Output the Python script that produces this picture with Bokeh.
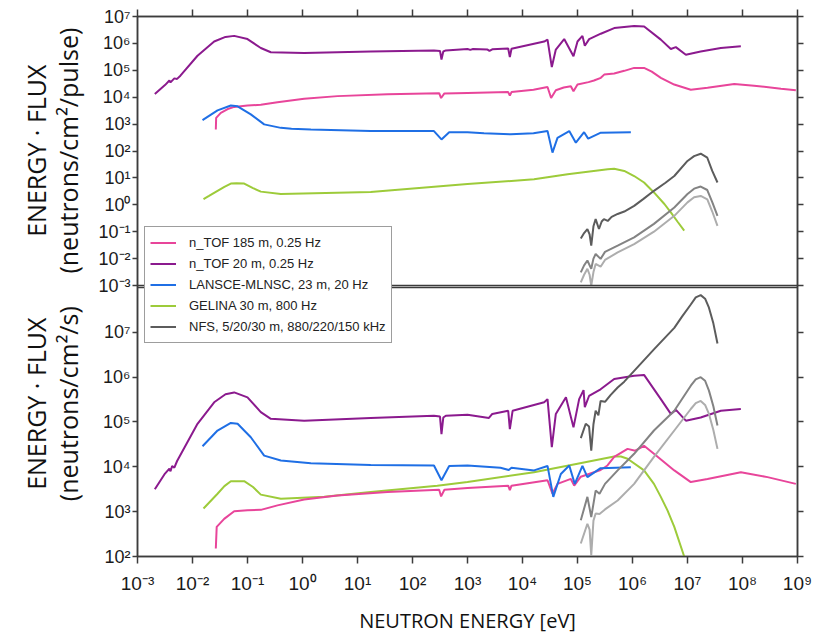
import numpy as np
from bokeh.plotting import figure
from bokeh.layouts import row
from bokeh.core.properties import value
from bokeh.models import (Range1d, LogScale, LogAxis, FixedTicker, Span, Legend, LegendItem)
from bokeh.embed import file_html
from bokeh.resources import INLINE

# ---------------- data: (log10 E [eV], log10 ENERGY·FLUX) ----------------
# upper panel: neutrons/cm2/pulse
ntof185_top = [(-1.576, 2.80), (-1.57, 3.23), (-1.485, 3.42), (-1.36, 3.56), (-1.242, 3.64), (-1.0, 3.69),
               (-0.758, 3.72), (-0.455, 3.81), (0.03, 3.94), (0.636, 4.04), (1.545, 4.11), (2.485, 4.15),
               (2.52, 3.97), (2.58, 4.14), (3.0, 4.16), (3.74, 4.19), (3.77, 4.06), (3.80, 4.19), (4.2, 4.28),
               (4.455, 4.38), (4.52, 3.97), (4.606, 4.26), (4.75, 4.36), (4.879, 4.41), (4.927, 4.22),
               (5.0, 4.47), (5.2, 4.56), (5.3, 4.62), (5.424, 4.72), (5.485, 4.84), (5.667, 4.88),
               (5.85, 4.98), (6.03, 5.09), (6.21, 5.09), (6.35, 4.95), (6.515, 4.72), (6.758, 4.47),
               (7.06, 4.28), (7.364, 4.35), (7.85, 4.49), (8.21, 4.43), (8.70, 4.31), (8.97, 4.26)]
ntof20_top = [(-2.685, 4.12), (-2.50, 4.45), (-2.42, 4.62), (-2.40, 4.55), (-2.33, 4.70), (-2.28, 4.68),
              (-2.22, 4.80), (-1.909, 5.54), (-1.606, 6.07), (-1.40, 6.24), (-1.242, 6.28), (-1.0, 6.16),
              (-0.758, 5.83), (-0.576, 5.67), (0.03, 5.64), (1.24, 5.70), (2.39, 5.74), (2.50, 5.72),
              (2.527, 5.40), (2.56, 5.70), (2.606, 5.74), (3.0, 5.79), (3.05, 5.76), (3.10, 5.79),
              (3.364, 5.77), (3.40, 5.72), (3.45, 5.78), (3.74, 5.81), (3.77, 5.49), (3.80, 5.80),
              (4.394, 6.07), (4.455, 6.14), (4.533, 5.12), (4.606, 5.77), (4.758, 6.16), (4.927, 5.52),
              (5.0, 6.07), (5.09, 6.28), (5.133, 5.91), (5.212, 6.16), (5.424, 6.36), (5.667, 6.57),
              (6.03, 6.65), (6.212, 6.63), (6.515, 6.14), (6.697, 5.79), (6.788, 5.86), (6.97, 5.58),
              (7.24, 5.70), (7.606, 5.83), (7.97, 5.89)]
lansce_top = [(-1.818, 3.15), (-1.545, 3.51), (-1.303, 3.69), (-1.18, 3.66), (-0.94, 3.36), (-0.697, 2.99),
              (-0.394, 2.86), (-0.2, 2.83), (0.152, 2.80), (1.24, 2.74), (2.39, 2.74), (2.527, 2.43),
              (2.667, 2.70), (3.0, 2.70), (3.3, 2.66), (3.788, 2.62), (4.2, 2.66), (4.455, 2.74),
              (4.545, 1.94), (4.636, 2.49), (4.85, 2.74), (4.97, 2.31), (5.12, 2.70), (5.194, 2.46),
              (5.424, 2.68), (5.97, 2.70)]
gelina_top = [(-1.8, 0.21), (-1.7, 0.33), (-1.545, 0.52), (-1.42, 0.67), (-1.303, 0.79), (-1.2, 0.80),
              (-1.06, 0.79), (-0.9, 0.62), (-0.758, 0.49), (-0.394, 0.40), (1.24, 0.48), (3.0, 0.77),
              (4.21, 0.95), (4.82, 1.14), (5.55, 1.32), (5.667, 1.34), (5.85, 1.26), (6.03, 1.07),
              (6.21, 0.83), (6.39, 0.46), (6.58, 0.03), (6.70, -0.29), (6.82, -0.63), (6.94, -0.96)]
nfs5_top = [(5.06, -1.25), (5.12, -1.05), (5.18, -0.90), (5.22, -1.10), (5.25, -1.52), (5.29, -0.80),
            (5.33, -0.53), (5.39, -0.90), (5.44, -0.62), (5.48, -0.53), (5.55, -0.60), (5.62, -0.45),
            (5.73, -0.34), (5.85, -0.25), (6.03, -0.04), (6.2, 0.22), (6.39, 0.52), (6.6, 0.82),
            (6.76, 1.07), (7.0, 1.63), (7.12, 1.81), (7.24, 1.90), (7.36, 1.75), (7.45, 1.26), (7.545, 0.83)]
nfs20_top = [(5.06, -2.51), (5.12, -2.25), (5.18, -2.07), (5.25, -2.38), (5.29, -2.0), (5.33, -1.83),
             (5.42, -2.01), (5.5, -1.75), (5.73, -1.52), (6.03, -1.21), (6.39, -0.71), (6.76, -0.10),
             (7.0, 0.40), (7.12, 0.60), (7.24, 0.68), (7.36, 0.55), (7.45, 0.10), (7.545, -0.41)]
nfs30_top = [(5.06, -2.88), (5.12, -2.6), (5.18, -2.38), (5.22, -2.6), (5.25, -3.0), (5.29, -2.5),
             (5.33, -2.20), (5.42, -2.3), (5.5, -2.05), (5.73, -1.77), (6.03, -1.46), (6.39, -1.0),
             (6.76, -0.41), (7.0, 0.09), (7.12, 0.28), (7.24, 0.33), (7.36, 0.20), (7.45, -0.25),
             (7.545, -0.78)]

# lower panel: neutrons/cm2/s
ntof185_bot = [(-1.576, 2.18), (-1.56, 2.66), (-1.424, 2.84), (-1.242, 3.01), (-1.0, 3.03), (-0.758, 3.04),
               (-0.455, 3.14), (0.03, 3.27), (0.636, 3.36), (1.545, 3.44), (2.485, 3.49), (2.52, 3.34),
               (2.58, 3.49), (3.0, 3.53), (3.74, 3.58), (3.77, 3.48), (3.80, 3.58), (4.455, 3.70),
               (4.545, 3.40), (4.636, 3.62), (4.879, 3.73), (4.94, 3.58), (5.06, 3.78), (5.42, 3.93),
               (5.545, 4.03), (5.667, 4.22), (5.91, 4.40), (6.05, 4.36), (6.21, 4.47), (6.39, 4.29),
               (6.76, 3.92), (7.06, 3.66), (7.364, 3.73), (7.97, 3.88), (8.455, 3.77), (8.97, 3.62)]
ntof20_bot = [(-2.685, 3.50), (-2.50, 3.85), (-2.42, 3.96), (-2.40, 3.90), (-2.37, 4.02), (-2.33, 3.98),
              (-2.28, 4.13), (-1.909, 4.96), (-1.606, 5.44), (-1.40, 5.62), (-1.242, 5.66), (-1.0, 5.55),
              (-0.758, 5.22), (-0.576, 5.07), (0.03, 5.03), (1.24, 5.09), (2.39, 5.14), (2.50, 5.12),
              (2.527, 4.73), (2.56, 5.10), (2.606, 5.14), (3.0, 5.16), (3.39, 5.09), (3.45, 5.18),
              (3.74, 5.25), (3.77, 4.84), (3.82, 5.25), (4.394, 5.44), (4.455, 5.51), (4.533, 4.44),
              (4.606, 5.18), (4.79, 5.55), (4.927, 4.88), (5.03, 5.51), (5.11, 5.71), (5.133, 5.33),
              (5.21, 5.58), (5.42, 5.73), (5.667, 5.96), (6.03, 6.03), (6.21, 6.05), (6.515, 5.51),
              (6.697, 5.18), (6.79, 5.27), (6.97, 5.03), (7.24, 5.10), (7.606, 5.25), (7.97, 5.29)]
lansce_bot = [(-1.818, 4.46), (-1.545, 4.81), (-1.303, 4.98), (-1.18, 4.96), (-0.94, 4.66), (-0.697, 4.25),
              (-0.394, 4.14), (0.152, 4.08), (1.24, 4.04), (2.39, 4.03), (2.527, 3.70), (2.667, 4.02),
              (3.0, 4.03), (3.6, 3.98), (3.75, 3.93), (3.8, 3.98), (4.21, 3.92), (4.455, 4.02),
              (4.56, 3.33), (4.697, 3.84), (4.85, 4.03), (4.95, 3.62), (5.09, 4.02), (5.18, 3.77),
              (5.42, 3.97), (5.97, 3.99)]
gelina_bot = [(-1.8, 3.07), (-1.7, 3.20), (-1.545, 3.40), (-1.42, 3.57), (-1.303, 3.68), (-1.06, 3.68),
              (-0.9, 3.55), (-0.758, 3.38), (-0.394, 3.29), (0.394, 3.33), (1.24, 3.44), (2.45, 3.58),
              (3.0, 3.66), (4.21, 3.88), (5.0, 4.07), (5.667, 4.23), (5.79, 4.23), (5.91, 4.18),
              (6.21, 3.92), (6.39, 3.62), (6.515, 3.33), (6.636, 3.03), (6.76, 2.66), (6.94, 2.0)]
nfs5_bot = [(5.06, 4.64), (5.15, 4.96), (5.21, 4.90), (5.25, 4.36), (5.29, 4.95), (5.33, 5.25),
            (5.38, 5.15), (5.42, 5.47), (5.5, 5.45), (5.6, 5.60), (5.73, 5.77), (5.85, 5.90),
            (6.03, 6.14), (6.39, 6.62), (6.76, 7.10), (6.9, 7.35), (7.06, 7.62), (7.15, 7.78),
            (7.24, 7.83), (7.32, 7.75), (7.39, 7.55), (7.47, 7.20), (7.545, 6.75)]
nfs20_bot = [(5.06, 2.81), (5.18, 3.33), (5.25, 2.88), (5.33, 3.47), (5.4, 3.40), (5.5, 3.62),
             (5.73, 3.92), (6.03, 4.29), (6.39, 4.81), (6.76, 5.25), (7.06, 5.81), (7.15, 5.95),
             (7.24, 6.0), (7.32, 5.92), (7.39, 5.70), (7.47, 5.35), (7.545, 4.92)]
nfs30_bot = [(5.06, 2.29), (5.18, 2.73), (5.22, 2.6), (5.25, 2.03), (5.29, 2.8), (5.33, 2.96),
             (5.4, 2.95), (5.5, 3.05), (5.73, 3.25), (6.03, 3.62), (6.39, 4.22), (6.76, 4.81),
             (7.06, 5.29), (7.15, 5.42), (7.24, 5.47), (7.32, 5.38), (7.39, 5.18), (7.47, 4.82),
             (7.545, 4.40)]

legend_labels = ["n_TOF 185 m, 0.25 Hz", "n_TOF 20 m, 0.25 Hz", "LANSCE-MLNSC, 23 m, 20 Hz",
                 "GELINA 30 m, 800 Hz", "NFS, 5/20/30 m, 880/220/150 kHz"]
y_titles = ["ENERGY · FLUX", "(neutrons/cm²/pulse)", "ENERGY · FLUX", "(neutrons/cm²/s)"]
x_title = "NEUTRON ENERGY [eV]"
x_exps = list(range(-3, 10))
top_exps = list(range(-3, 8))
bot_exps = list(range(2, 8))

# ---------------- styling ----------------
PINK, PURPLE, BLUE, GREEN = "#e8459a", "#8b1a8e", "#1f6fe5", "#9dcb3a"
GD, GM, GL = "#5c5c5c", "#838383", "#adadad"
AX = "#3c3c3c"
H = 636

TOP_MIN, TOP_MAX = -13.074, 7.0      # log10 range of upper panel scale over whole frame
BOT_MIN, BOT_MAX = 2.0, 14.044       # log10 range of lower panel scale over whole frame

SUP = str.maketrans("-0123456789", "⁻⁰¹²³⁴⁵⁶⁷⁸⁹")


def pow_label(e):
    return "10" + str(e).translate(SUP)


def bot_to_top(e):
    f = (e - BOT_MIN) / (BOT_MAX - BOT_MIN)
    return 10.0 ** (TOP_MIN + f * (TOP_MAX - TOP_MIN))


# ---------------- left strip holding the two-line y titles ----------------
LW = 85
lab = figure(width=LW, height=H, x_range=Range1d(0, LW), y_range=Range1d(0, H),
             x_axis_type=None, y_axis_type=None, output_backend="svg", toolbar_location=None,
             min_border=0)
lab.grid.visible = False
lab.outline_line_color = None
lab.border_fill_color = "white"
lab.text(x=[35, 67, 35, 67], y=[H - 158, H - 158, H - 456, H - 456], text=y_titles,
         angle=np.pi / 2, text_align="center", text_baseline="middle",
         text_font=value("Open Sans"), text_font_size=value("25px"), text_color="#111111")

# ---------------- main chart ----------------
p = figure(width=52 + 660 + 26, height=H, x_axis_type="log", y_axis_type="log",
           x_range=Range1d(1e-3, 1e9), y_range=Range1d(10 ** TOP_MIN, 10 ** TOP_MAX),
           output_backend="svg", toolbar_location=None,
           min_border_left=52, min_border_right=26, min_border_top=16, min_border_bottom=H - 558)
p.extra_y_ranges = {"bot": Range1d(10 ** BOT_MIN, 10 ** BOT_MAX)}
p.extra_y_scales = {"bot": LogScale()}
p.grid.visible = False
p.background_fill_color = "white"
p.border_fill_color = "white"
p.outline_line_color = AX
p.outline_line_width = 1.5


def xy(pts):
    a = np.array(pts, dtype=float)
    return 10 ** a[:, 0], 10 ** a[:, 1]


def draw(pts, color, rng="default"):
    x, y = xy(pts)
    return p.line(x, y, line_color=color, line_width=2, y_range_name=rng)


# lower panel
draw(gelina_bot, GREEN, "bot")
draw(ntof185_bot, PINK, "bot")
draw(lansce_bot, BLUE, "bot")
draw(ntof20_bot, PURPLE, "bot")
draw(nfs30_bot, GL, "bot")
draw(nfs20_bot, GM, "bot")
draw(nfs5_bot, GD, "bot")
# upper panel
r_gel = draw(gelina_top, GREEN)
r_185 = draw(ntof185_top, PINK)
r_lan = draw(lansce_top, BLUE)
r_20 = draw(ntof20_top, PURPLE)
draw(nfs30_top, GL)
draw(nfs20_top, GM)
r_nfs = draw(nfs5_top, GD)

# ---------------- axes ----------------
xticks = [10.0 ** e for e in x_exps]
xa = p.xaxis[0]
xa.ticker = FixedTicker(ticks=xticks)
xa.major_label_overrides = {t: pow_label(e) for t, e in zip(xticks, x_exps)}
xa.axis_label = x_title

ytick_top = [10.0 ** e for e in top_exps]
ytick_bot = [bot_to_top(e) for e in bot_exps]
yticks = ytick_top + ytick_bot
ya = p.yaxis[0]
ya.ticker = FixedTicker(ticks=yticks)
ov = {t: pow_label(e) for t, e in zip(ytick_top, top_exps)}
ov.update({t: pow_label(e) for t, e in zip(ytick_bot, bot_exps)})
ya.major_label_overrides = ov

for ax in (xa, ya):
    ax.axis_line_color = AX
    ax.axis_line_width = 1.5
    ax.major_tick_line_color = AX
    ax.major_tick_line_width = 1.5
    ax.major_tick_in = 0
    ax.minor_tick_in = 0
    ax.minor_tick_out = 0
    ax.major_label_text_font = "Liberation Sans"
    ax.major_label_text_color = "#1a1a1a"

xa.major_tick_out = 7
xa.major_label_standoff = 9
xa.major_label_text_font_size = "19px"
xa.axis_label_text_font = "Open Sans"
xa.axis_label_text_font_size = "20px"
xa.axis_label_text_font_style = "normal"
xa.axis_label_text_color = "#111111"
xa.axis_label_standoff = 10

ya.major_tick_out = 5
ya.major_label_standoff = 2
ya.major_label_text_font_size = "18px"

# tick-only axes on the top and right edges (labels blanked)
top_ax = LogAxis(ticker=FixedTicker(ticks=xticks), major_label_overrides={t: "" for t in xticks},
                 major_label_standoff=0, major_tick_out=7, major_tick_in=0,
                 minor_tick_in=0, minor_tick_out=0, axis_line_color=AX, axis_line_width=1.5,
                 major_tick_line_color=AX, major_tick_line_width=1.5)
p.add_layout(top_ax, "above")
right_ax = LogAxis(ticker=FixedTicker(ticks=yticks), major_label_overrides={t: "" for t in yticks},
                   major_label_standoff=0, major_tick_out=6, major_tick_in=0,
                   minor_tick_in=0, minor_tick_out=0, axis_line_color=AX, axis_line_width=1.5,
                   major_tick_line_color=AX, major_tick_line_width=1.5)
p.add_layout(right_ax, "right")

# panel separator (bottom of upper panel, top of lower panel)
p.add_layout(Span(location=10.0 ** top_exps[0], dimension="width", line_color=AX, line_width=1.3))
p.add_layout(Span(location=10.0 ** 8, dimension="width", line_color=AX, line_width=1.3,
                  y_range_name="bot"))

# legend
legend = Legend(items=[LegendItem(label=legend_labels[0], renderers=[r_185]),
                       LegendItem(label=legend_labels[1], renderers=[r_20]),
                       LegendItem(label=legend_labels[2], renderers=[r_lan]),
                       LegendItem(label=legend_labels[3], renderers=[r_gel]),
                       LegendItem(label=legend_labels[4], renderers=[r_nfs])],
                location=(7, 213), padding=5, spacing=0, margin=0,
                glyph_width=26, glyph_height=21, label_height=21, label_standoff=13,
                label_text_font="Liberation Sans", label_text_font_size="13px",
                label_text_color="#222222", border_line_color=AX, border_line_width=1.5,
                background_fill_color="white", background_fill_alpha=1.0)
p.add_layout(legend)

layout = row(lab, p)
open("out.html", "w").write(file_html(layout, INLINE))
